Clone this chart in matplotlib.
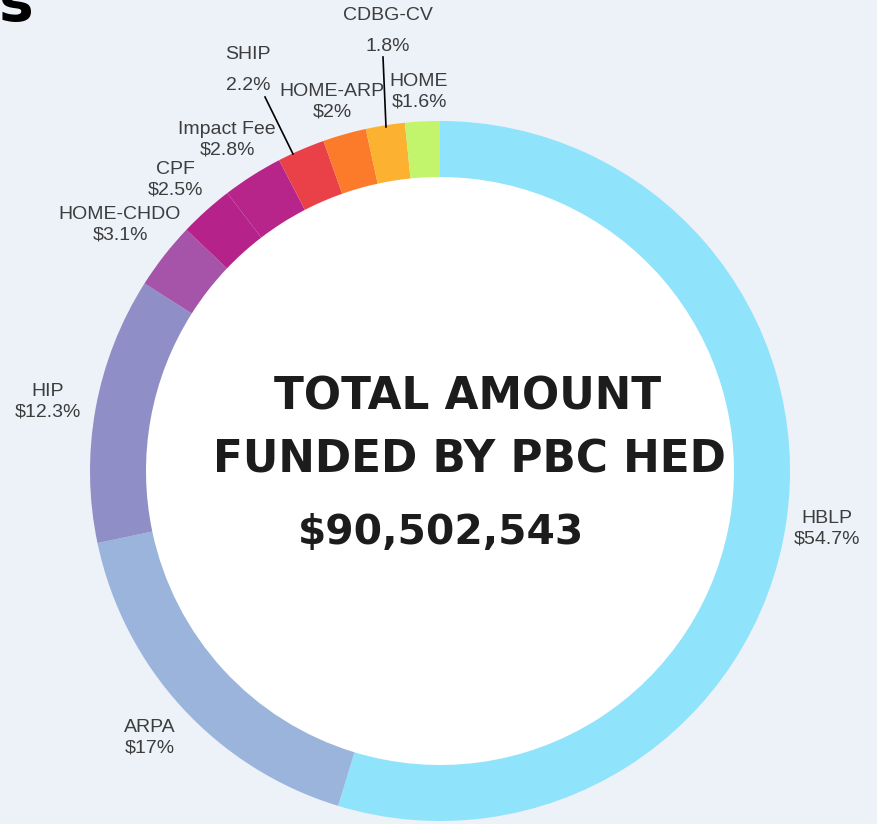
import matplotlib.pyplot as plt
import numpy as np

# data, clockwise from the top
sources = ['HBLP', 'ARPA', 'HIP', 'HOME-CHDO', 'CPF', 'Impact Fee',
           'SHIP', 'HOME-ARP', 'CDBG-CV', 'HOME']
shares = [54.7, 17.0, 12.3, 3.1, 2.5, 2.8, 2.2, 2.0, 1.8, 1.6]
share_texts = ['$54.7%', '$17%', '$12.3%', '$3.1%', '$2.5%', '$2.8%',
               '2.2%', '$2%', '1.8%', '$1.6%']
total_funded = '$90,502,543'

colors = ['#8fe3fa', '#9ab4dc', '#8f8ec7', '#a654a9', '#b5238a', '#b8258a',
          '#ea4149', '#fb7b2b', '#fdb131', '#c3f56c']

BG = '#edf1f8'
W, H = 878, 824

# label anchor positions in pixels (x, y from top); SHIP / CDBG-CV sit apart
label_pos = [(827, 529), (150, 738), (48, 402), (120, 225), (175, 180),
             (227, 140), (248, 70), (332, 102), (388, 31), (419, 92)]
gap_labels = {'SHIP', 'CDBG-CV'}

fig = plt.figure(figsize=(W / 100, H / 100), dpi=100, facecolor=BG)
ax = fig.add_axes([0, 0, 1, 1])
ax.set_facecolor(BG)

cx, cy, R, ring = 440, H - 471, 350, 56
ax.pie(shares, colors=colors, startangle=90, counterclock=False,
       center=(cx, cy), radius=R, frame=True,
       wedgeprops=dict(width=ring, edgecolor='none', linewidth=0))
ax.set_xlim(0, W)
ax.set_ylim(0, H)
ax.set_aspect('equal')
ax.axis('off')

# inner white disc
ax.add_patch(plt.Circle((cx, cy), R - ring, color='white', zorder=0.5))

for name, val, (x, y) in zip(sources, share_texts, label_pos):
    ls = 2.1 if name in gap_labels else 1.25
    ax.text(x, H - y, f'{name}\n{val}', ha='center', va='center', fontsize=14,
            color='#3d3d3d', family='Liberation Sans', linespacing=ls)

# leader lines for SHIP and CDBG-CV
ax.plot([265, 293], [H - 97, H - 154], color='black', lw=1.2)
ax.plot([383, 386], [H - 57, H - 127], color='black', lw=1.2)

# centre text
ax.text(468, H - 397, 'TOTAL AMOUNT', ha='center', va='center',
        fontsize=31.5, fontweight='bold', color='#1c1c1c', family='DejaVu Sans')
ax.text(469, H - 460, 'FUNDED BY PBC HED', ha='center', va='center',
        fontsize=31.5, fontweight='bold', color='#1c1c1c', family='DejaVu Sans')
ax.text(441, H - 533, total_funded, ha='center', va='center',
        fontsize=29.3, fontweight='bold', color='#1c1c1c', family='DejaVu Sans')

# cropped title remnant in the corner
ax.text(34, H - 21, 's', ha='right', va='baseline', fontsize=42,
        fontweight='bold', color='black', family='DejaVu Sans')

fig.savefig('out.png', dpi=100, facecolor=BG)
